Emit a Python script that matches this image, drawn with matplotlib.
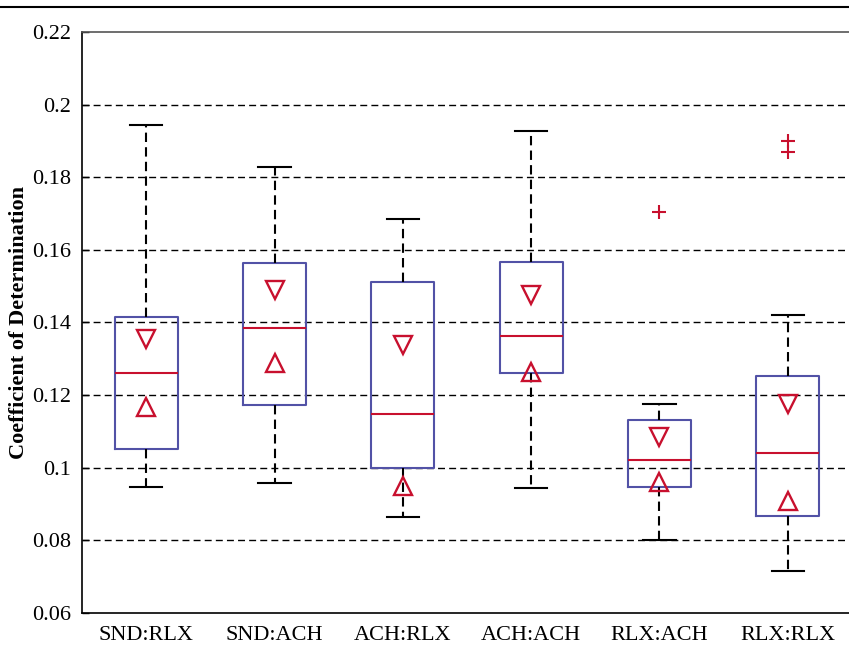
import numpy as np
import matplotlib
matplotlib.use("Agg")
import matplotlib.pyplot as plt
from matplotlib.lines import Line2D

plt.rcParams['font.family'] = ['Liberation Serif', 'DejaVu Serif']

groups = ['SND:RLX', 'SND:ACH', 'ACH:RLX', 'ACH:ACH', 'RLX:ACH', 'RLX:RLX']
whis_hi = [0.1944, 0.1828, 0.1685, 0.1927, 0.1176, 0.1421]
q3 = [0.1415, 0.1564, 0.1512, 0.1566, 0.1131, 0.1252]
median = [0.1261, 0.1385, 0.1147, 0.1362, 0.1022, 0.1041]
q1 = [0.1052, 0.1173, 0.1000, 0.1260, 0.0947, 0.0868]
whis_lo = [0.0947, 0.0958, 0.0865, 0.0945, 0.0801, 0.0716]
notch_hi = [0.1354, 0.1489, 0.1337, 0.1475, 0.1086, 0.1176]
notch_lo = [0.1167, 0.1288, 0.0950, 0.1263, 0.0962, 0.0909]
outliers = [[], [], [], [], [0.1703], [0.1899, 0.1869]]

box_col = '#5252a6'
red = '#c8102e'

fig = plt.figure(figsize=(8.49, 6.47), dpi=100)
ax = fig.add_axes([82/849, 1 - 613/647, 770/849, 581/647])

stats = []
for i in range(len(groups)):
    stats.append(dict(label=groups[i], med=median[i], q1=q1[i], q3=q3[i],
                      whislo=whis_lo[i], whishi=whis_hi[i], fliers=outliers[i]))

pos = np.arange(1, len(groups) + 1)
ax.bxp(stats, positions=pos, widths=0.49, showfliers=True,
       boxprops=dict(color=box_col, linewidth=1.5),
       medianprops=dict(color=red, linewidth=1.5),
       whiskerprops=dict(color='black', linewidth=1.5, linestyle=(0, (4.5, 2.5))),
       capprops=dict(color='black', linewidth=1.5),
       capwidths=0.25,
       flierprops=dict(marker='+', markeredgecolor=red, markersize=10, markeredgewidth=1.5))

# notch markers
ax.plot(pos, notch_hi, 'v', mfc='none', mec=red, ms=13.5, mew=1.7, ls='none')
ax.plot(pos, notch_lo, '^', mfc='none', mec=red, ms=13.5, mew=1.7, ls='none')

ax.set_xlim(0.5, 6.5)
ax.set_ylim(0.06, 0.22)
ax.set_yticks([0.06, 0.08, 0.1, 0.12, 0.14, 0.16, 0.18, 0.2, 0.22])
ax.set_yticklabels(['0.06', '0.08', '0.1', '0.12', '0.14', '0.16', '0.18', '0.2', '0.22'])
ax.set_xticks(pos)
ax.set_xticklabels(groups)
ax.tick_params(axis='both', direction='in', labelsize=16, length=5, width=1)
ax.tick_params(axis='x', length=0, pad=9)
ax.tick_params(axis='y', pad=8)

for yv in [0.08, 0.1, 0.12, 0.14, 0.16, 0.18, 0.2]:
    ax.axhline(yv, color='black', linewidth=1.0, linestyle=(0, (5, 3)), zorder=0)

for s in ax.spines.values():
    s.set_linewidth(1.2)
ax.spines['top'].set_color('#555555')

ax.set_ylabel('Coefficient of Determination', fontsize=16, fontweight='bold', labelpad=2)

fig.add_artist(Line2D([0, 1], [1 - 7/647, 1 - 7/647], color='black', linewidth=1.5))

fig.savefig('out.png', dpi=100)
